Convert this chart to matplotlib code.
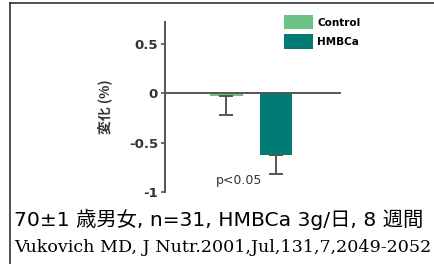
import matplotlib
matplotlib.use("Agg")
import matplotlib.pyplot as plt
from matplotlib.patches import Patch
from matplotlib.lines import Line2D

groups = ["Control", "HMBCa"]
change = [-0.03, -0.63]
err = [0.19, 0.19]
colors = ["#6cc184", "#007b75"]
yticks = [0.5, 0, -0.5, -1]
ytick_labels = ["0.5", "0", "-0.5", "-1"]
note = "70±1 歳男女, n=31, HMBCa 3g/日, 8 週間"
source = "Vukovich MD, J Nutr.2001,Jul,131,7,2049-2052"

W, H = 435, 264
fig = plt.figure(figsize=(W / 100, H / 100), dpi=100)

# frame lines (top and left only)
fig.add_artist(Line2D([10 / W, 1], [1 - 3 / H, 1 - 3 / H], color="#333333", lw=1.2))
fig.add_artist(Line2D([10 / W, 10 / W], [0, 1 - 3 / H], color="#333333", lw=1.2))

ax = fig.add_axes([165 / W, 1 - 192 / H, 175 / W, 170 / H])
ax.set_xlim(-1.245, 2.30)
ax.set_ylim(-1, 0.72)

x = range(len(groups))
ax.bar(x, change, width=0.65, color=colors, zorder=2)
for xi, v, e in zip(x, change, err):
    ax.errorbar(xi, v, yerr=[[e], [0]], fmt="none", ecolor="#555555",
                elinewidth=1.4, capsize=5, capthick=1.4, zorder=3)

for s in ["top", "right"]:
    ax.spines[s].set_visible(False)
ax.spines["bottom"].set_position(("data", 0))
ax.spines["left"].set_color("#555555")
ax.spines["bottom"].set_color("#555555")
ax.spines["left"].set_linewidth(1.4)
ax.spines["bottom"].set_linewidth(1.4)
ax.set_xticks([])
ax.set_yticks(yticks)
ax.set_yticklabels(ytick_labels, fontsize=9.5, fontweight="bold", color="#333333")
ax.tick_params(axis="y", length=3, width=1.2, color="#555555", pad=2)

ax.set_ylabel("変化 (%)", family=["Noto Sans CJK JP", "DejaVu Sans"],
              fontsize=10, fontweight="bold", color="#333333", labelpad=12)

ax.text(0.25, -0.88, "p<0.05", fontsize=9, color="#333333",
        ha="center", va="center")

handles = [Patch(facecolor=c, label=g) for g, c in zip(groups, colors)]
fig.legend(handles=handles, loc="upper left", bbox_to_anchor=(280 / W, 1 - 11 / H),
           frameon=False, prop={"size": 7.5, "weight": "bold"},
           handlelength=2.8, handleheight=1.7, handletextpad=0.4,
           labelspacing=0.5, borderaxespad=0)

fig.text(14 / W, 1 - 219 / H, note, family=["DejaVu Sans", "Noto Sans CJK JP"],
         fontsize=14.6, va="center", ha="left", color="black")
fig.text(14 / W, 1 - 248 / H, source, family="DejaVu Serif",
         fontsize=12.6, va="center", ha="left", color="black")

fig.savefig("out.png", dpi=100)
